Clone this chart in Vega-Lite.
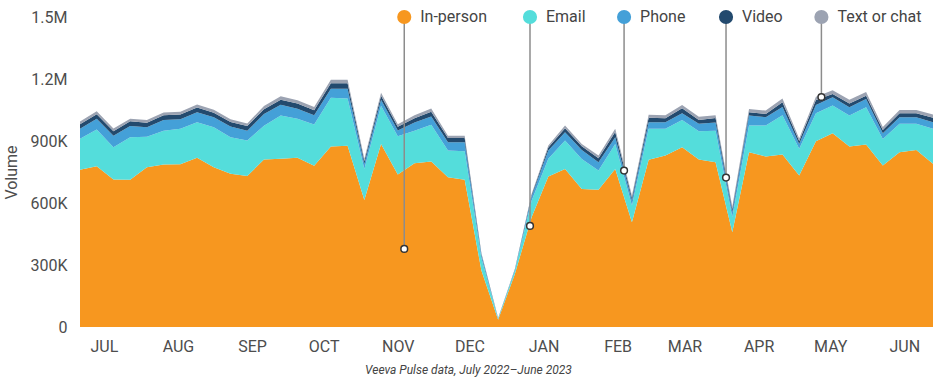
{
  "$schema": "https://vega.github.io/schema/vega-lite/v6.json",
  "width": 853,
  "height": 310,
  "autosize": {"type": "none"},
  "padding": {"left": 80, "top": 17, "right": 7, "bottom": 59},
  "background": "white",
  "config": {
    "view": {"stroke": null},
    "font": "Roboto",
    "axis": {"domain": false, "ticks": false, "grid": false, "labelFont": "Roboto", "labelFontSize": 16, "labelColor": "#4d4d4d", "titleFont": "Roboto"}
  },
  "title": {"text": "Veeva Pulse data, July 2022\u2013June 2023", "orient": "bottom", "frame": "bounds", "anchor": "middle", "fontSize": 12, "fontStyle": "italic", "fontWeight": "normal", "color": "#444444", "font": "Roboto", "offset": 11},
  "datasets": {
    "weekly": [
      {"week": "2022-07-05", "In-person": 761000, "Email": 150000, "Phone": 48000, "Video": 22000, "Text or chat": 13000},
      {"week": "2022-07-12", "In-person": 778000, "Email": 178000, "Phone": 52000, "Video": 22000, "Text or chat": 14000},
      {"week": "2022-07-19", "In-person": 714000, "Email": 156000, "Phone": 55000, "Video": 22000, "Text or chat": 13000},
      {"week": "2022-07-26", "In-person": 712000, "Email": 206000, "Phone": 55000, "Video": 22000, "Text or chat": 13000},
      {"week": "2022-08-02", "In-person": 773000, "Email": 148000, "Phone": 45000, "Video": 22000, "Text or chat": 14000},
      {"week": "2022-08-09", "In-person": 786000, "Email": 164000, "Phone": 52000, "Video": 22000, "Text or chat": 14000},
      {"week": "2022-08-16", "In-person": 788000, "Email": 171000, "Phone": 46000, "Video": 23000, "Text or chat": 14000},
      {"week": "2022-08-23", "In-person": 819000, "Email": 172000, "Phone": 48000, "Video": 23000, "Text or chat": 15000},
      {"week": "2022-08-30", "In-person": 773000, "Email": 194000, "Phone": 48000, "Video": 22000, "Text or chat": 14000},
      {"week": "2022-09-06", "In-person": 741000, "Email": 177000, "Phone": 52000, "Video": 22000, "Text or chat": 13000},
      {"week": "2022-09-13", "In-person": 731000, "Email": 171000, "Phone": 48000, "Video": 22000, "Text or chat": 13000},
      {"week": "2022-09-20", "In-person": 810000, "Email": 164000, "Phone": 57000, "Video": 23000, "Text or chat": 15000},
      {"week": "2022-09-27", "In-person": 814000, "Email": 209000, "Phone": 52000, "Video": 25000, "Text or chat": 17000},
      {"week": "2022-10-04", "In-person": 819000, "Email": 189000, "Phone": 48000, "Video": 25000, "Text or chat": 16000},
      {"week": "2022-10-11", "In-person": 780000, "Email": 200000, "Phone": 44000, "Video": 25000, "Text or chat": 16000},
      {"week": "2022-10-18", "In-person": 873000, "Email": 236000, "Phone": 44000, "Video": 27000, "Text or chat": 16000},
      {"week": "2022-10-25", "In-person": 877000, "Email": 229000, "Phone": 47000, "Video": 27000, "Text or chat": 16000},
      {"week": "2022-11-01", "In-person": 615000, "Email": 150000, "Phone": 24000, "Video": 14000, "Text or chat": 11000},
      {"week": "2022-11-08", "In-person": 886000, "Email": 185000, "Phone": 28000, "Video": 20000, "Text or chat": 15000},
      {"week": "2022-11-15", "In-person": 738000, "Email": 185000, "Phone": 28000, "Video": 18000, "Text or chat": 12000},
      {"week": "2022-11-22", "In-person": 792000, "Email": 158000, "Phone": 40000, "Video": 20000, "Text or chat": 14000},
      {"week": "2022-11-29", "In-person": 801000, "Email": 178000, "Phone": 40000, "Video": 22000, "Text or chat": 16000},
      {"week": "2022-12-06", "In-person": 725000, "Email": 129000, "Phone": 40000, "Video": 20000, "Text or chat": 12000},
      {"week": "2022-12-13", "In-person": 712000, "Email": 138000, "Phone": 44000, "Video": 20000, "Text or chat": 12000},
      {"week": "2022-12-20", "In-person": 273000, "Email": 60000, "Phone": 15000, "Video": 5000, "Text or chat": 5000},
      {"week": "2022-12-27", "In-person": 35000, "Email": 5000, "Phone": 1000, "Video": 1000, "Text or chat": 1000},
      {"week": "2023-01-03", "In-person": 257000, "Email": 16000, "Phone": 4000, "Video": 2000, "Text or chat": 2000},
      {"week": "2023-01-10", "In-person": 531000, "Email": 80000, "Phone": 20000, "Video": 8000, "Text or chat": 5000},
      {"week": "2023-01-17", "In-person": 728000, "Email": 86000, "Phone": 40000, "Video": 14000, "Text or chat": 10000},
      {"week": "2023-01-24", "In-person": 765000, "Email": 137000, "Phone": 40000, "Video": 20000, "Text or chat": 13000},
      {"week": "2023-01-31", "In-person": 668000, "Email": 145000, "Phone": 44000, "Video": 17000, "Text or chat": 12000},
      {"week": "2023-02-07", "In-person": 664000, "Email": 93000, "Phone": 40000, "Video": 20000, "Text or chat": 13000},
      {"week": "2023-02-14", "In-person": 765000, "Email": 121000, "Phone": 32000, "Video": 25000, "Text or chat": 16000},
      {"week": "2023-02-21", "In-person": 507000, "Email": 81000, "Phone": 24000, "Video": 14000, "Text or chat": 10000},
      {"week": "2023-02-28", "In-person": 809000, "Email": 150000, "Phone": 32000, "Video": 21000, "Text or chat": 15000},
      {"week": "2023-03-07", "In-person": 830000, "Email": 129000, "Phone": 32000, "Video": 19000, "Text or chat": 14000},
      {"week": "2023-03-14", "In-person": 870000, "Email": 132000, "Phone": 32000, "Video": 24000, "Text or chat": 16000},
      {"week": "2023-03-21", "In-person": 810000, "Email": 137000, "Phone": 36000, "Video": 19000, "Text or chat": 15000},
      {"week": "2023-03-28", "In-person": 797000, "Email": 153000, "Phone": 40000, "Video": 21000, "Text or chat": 14000},
      {"week": "2023-04-04", "In-person": 459000, "Email": 73000, "Phone": 24000, "Video": 15000, "Text or chat": 12000},
      {"week": "2023-04-11", "In-person": 846000, "Email": 129000, "Phone": 48000, "Video": 16000, "Text or chat": 16000},
      {"week": "2023-04-18", "In-person": 825000, "Email": 150000, "Phone": 40000, "Video": 16000, "Text or chat": 16000},
      {"week": "2023-04-25", "In-person": 835000, "Email": 189000, "Phone": 40000, "Video": 24000, "Text or chat": 18000},
      {"week": "2023-05-02", "In-person": 733000, "Email": 129000, "Phone": 24000, "Video": 14000, "Text or chat": 12000},
      {"week": "2023-05-09", "In-person": 899000, "Email": 135000, "Phone": 40000, "Video": 24000, "Text or chat": 16000},
      {"week": "2023-05-16", "In-person": 938000, "Email": 134000, "Phone": 40000, "Video": 16000, "Text or chat": 18000},
      {"week": "2023-05-23", "In-person": 873000, "Email": 150000, "Phone": 40000, "Video": 19000, "Text or chat": 18000},
      {"week": "2023-05-30", "In-person": 883000, "Email": 180000, "Phone": 40000, "Video": 16000, "Text or chat": 18000},
      {"week": "2023-06-06", "In-person": 781000, "Email": 129000, "Phone": 27000, "Video": 16000, "Text or chat": 15000},
      {"week": "2023-06-13", "In-person": 846000, "Email": 137000, "Phone": 32000, "Video": 19000, "Text or chat": 16000},
      {"week": "2023-06-20", "In-person": 857000, "Email": 126000, "Phone": 32000, "Video": 19000, "Text or chat": 16000},
      {"week": "2023-06-27", "In-person": 790000, "Email": 169000, "Phone": 32000, "Video": 21000, "Text or chat": 16000}
    ],
    "order": [
      {"channel": "In-person", "rank": 1},
      {"channel": "Email", "rank": 2},
      {"channel": "Phone", "rank": 3},
      {"channel": "Video", "rank": 4},
      {"channel": "Text or chat", "rank": 5}
    ],
    "callouts": [
      {"channel": "In-person", "date": "2022-11-17T17:00:00Z", "value": 378000},
      {"channel": "Email", "date": "2023-01-09T08:00:00Z", "value": 489000},
      {"channel": "Phone", "date": "2023-02-17T17:00:00Z", "value": 757000},
      {"channel": "Video", "date": "2023-04-01T09:00:00Z", "value": 723000},
      {"channel": "Text or chat", "date": "2023-05-11T07:00:00Z", "value": 1113000}
    ]
  },
  "layer": [
    {
      "data": {"name": "weekly"},
      "transform": [
        {"fold": ["In-person", "Email", "Phone", "Video", "Text or chat"], "as": ["channel", "volume"]},
        {"lookup": "channel", "from": {"data": {"name": "order"}, "key": "channel", "fields": ["rank"]}}
      ],
      "mark": {"type": "area", "interpolate": "linear"},
      "encoding": {
        "x": {
          "field": "week", "type": "temporal",
          "scale": {"type": "utc", "nice": false, "domain": [{"year": 2022, "month": 7, "date": 5, "utc": true}, {"year": 2023, "month": 6, "date": 27, "utc": true}]},
          "axis": {
            "title": null,
            "values": [
              {"year": 2022, "month": 7, "date": 15, "utc": true},
              {"year": 2022, "month": 8, "date": 15, "utc": true},
              {"year": 2022, "month": 9, "date": 15, "utc": true},
              {"year": 2022, "month": 10, "date": 15, "utc": true},
              {"year": 2022, "month": 11, "date": 15, "utc": true},
              {"year": 2022, "month": 12, "date": 15, "utc": true},
              {"year": 2023, "month": 1, "date": 15, "utc": true},
              {"year": 2023, "month": 2, "date": 15, "utc": true},
              {"year": 2023, "month": 3, "date": 15, "utc": true},
              {"year": 2023, "month": 4, "date": 15, "utc": true},
              {"year": 2023, "month": 5, "date": 15, "utc": true},
              {"year": 2023, "month": 6, "date": 15, "utc": true}
            ],
            "labelExpr": "upper(utcFormat(datum.value, '%b'))",
            "labelPadding": 11,
            "labelAlign": "center"
          }
        },
        "y": {
          "field": "volume", "type": "quantitative", "stack": "zero",
          "scale": {"domain": [0, 1500000], "nice": false},
          "axis": {
            "title": "Volume",
            "values": [0, 300000, 600000, 900000, 1200000, 1500000],
            "labelExpr": "datum.value == 0 ? '0' : (datum.value >= 1000000 ? format(datum.value / 1000000, '.1f') + 'M' : format(datum.value / 1000, 'd') + 'K')",
            "labelPadding": 13,
            "titlePadding": 10,
            "titleFontSize": 16,
            "titleFontWeight": "normal",
            "titleColor": "#4d4d4d"
          }
        },
        "color": {
          "field": "channel", "type": "nominal",
          "scale": {"domain": ["In-person", "Email", "Phone", "Video", "Text or chat"], "range": ["#F7971F", "#54DDDB", "#44A0D8", "#234A6E", "#9CA3B2"]},
          "legend": null
        },
        "order": {"field": "rank", "type": "quantitative"}
      }
    },
    {
      "data": {"name": "callouts"},
      "mark": {"type": "rule", "color": "#8c8c8c", "strokeWidth": 1.5},
      "encoding": {
        "x": {"field": "date", "type": "temporal", "title": null},
        "y": {"field": "value", "type": "quantitative", "title": "Volume"},
        "y2": {"datum": 1500000}
      }
    },
    {
      "data": {"name": "callouts"},
      "mark": {"type": "circle", "size": 200, "opacity": 1},
      "encoding": {
        "x": {"field": "date", "type": "temporal", "title": null},
        "y": {"datum": 1500000, "type": "quantitative", "title": "Volume"},
        "color": {"field": "channel", "type": "nominal", "legend": null}
      }
    },
    {
      "data": {"name": "callouts"},
      "mark": {"type": "text", "align": "left", "baseline": "middle", "dx": 16, "fontSize": 16, "font": "Roboto", "color": "#444444"},
      "encoding": {
        "x": {"field": "date", "type": "temporal", "title": null},
        "y": {"datum": 1500000, "type": "quantitative", "title": "Volume"},
        "text": {"field": "channel"}
      }
    },
    {
      "data": {"name": "callouts"},
      "mark": {"type": "circle", "size": 45, "opacity": 1, "fill": "white", "stroke": "#333333", "strokeWidth": 1.5},
      "encoding": {
        "x": {"field": "date", "type": "temporal", "title": null},
        "y": {"field": "value", "type": "quantitative", "title": "Volume"}
      }
    }
  ]
}
